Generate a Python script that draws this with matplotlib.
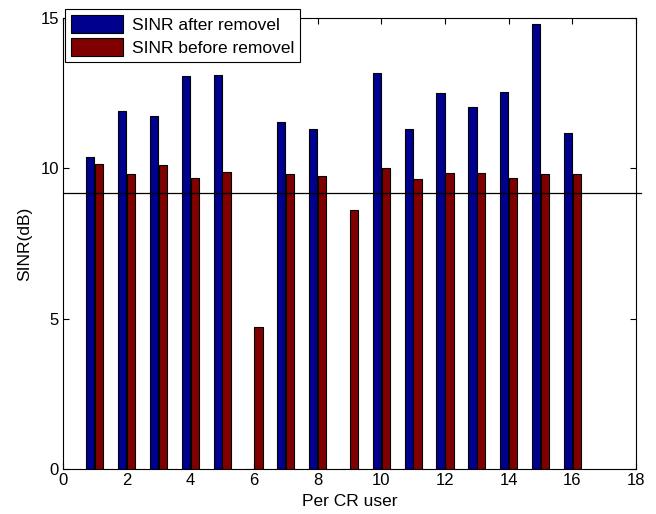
import numpy as np
import matplotlib
matplotlib.use("Agg")
import matplotlib.pyplot as plt

plt.rcParams['font.family'] = ['Liberation Sans', 'DejaVu Sans']

# Data
users = np.arange(1, 17)
sinr_after = [10.38, 11.92, 11.75, 13.06, 13.11, 0, 11.55, 11.31, 0,
              13.17, 11.31, 12.51, 12.05, 12.55, 14.81, 11.18]
sinr_before = [10.13, 9.81, 10.11, 9.68, 9.88, 4.73, 9.82, 9.76, 8.60,
               10.01, 9.64, 9.83, 9.86, 9.68, 9.81, 9.80]
threshold = 9.18

fig = plt.figure(figsize=(6.56, 5.14), dpi=100)
ax = fig.add_axes([0.096, 0.0875, 0.8735, 0.8775])

w = 0.26
ax.bar(users - 0.14, sinr_after, width=w, color='#00008f', edgecolor='black',
       linewidth=0.8, label='SINR after removel')
ax.bar(users + 0.14, sinr_before, width=w, color='#800000', edgecolor='black',
       linewidth=0.8, label='SINR before removel')

# threshold line, runs a bit past the right edge like the original
ax.plot([0, 18.15], [threshold, threshold], color='black', linewidth=0.9,
        clip_on=False, zorder=1)

ax.set_xlim(0, 18)
ax.set_ylim(0, 15)
ax.set_xticks(np.arange(0, 19, 2))
ax.set_yticks([0, 5, 10, 15])
ax.tick_params(direction='in', top=True, right=True, labelsize=12, length=4,
               pad=3)
for s in ax.spines.values():
    s.set_linewidth(0.8)

ax.set_xlabel('Per CR user', fontsize=12.5, labelpad=4)
ax.set_ylabel('SINR(dB)', fontsize=12.5, labelpad=6)

leg = ax.legend(loc='upper left', bbox_to_anchor=(0.099, 0.9825),
                bbox_transform=fig.transFigure, fontsize=12.5, fancybox=False,
                edgecolor='black', framealpha=1, handlelength=3.0,
                handleheight=1.2, borderaxespad=0, borderpad=0.35,
                labelspacing=0.3, handletextpad=0.5)
leg.get_frame().set_linewidth(0.8)

fig.savefig('out.png', dpi=100)
